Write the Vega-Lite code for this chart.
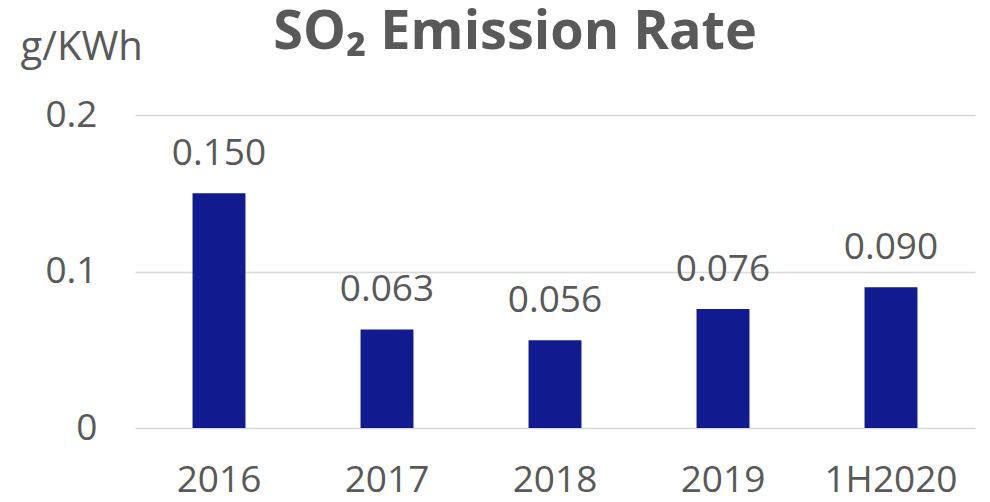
{
  "$schema": "https://vega.github.io/schema/vega-lite/v6.json",
  "autosize": "none",
  "width": 840,
  "height": 313,
  "padding": {"left": 135, "top": 115, "right": 15, "bottom": 74},
  "background": "white",
  "config": {"view": {"stroke": null}, "font": "Open Sans"},
  "title": {
    "text": "SO₂ Emission Rate",
    "font": "Open Sans",
    "fontSize": 54,
    "fontWeight": "bold",
    "color": "#595959",
    "anchor": "middle",
    "dx": -40,
    "offset": -33
  },
  "data": {
    "values": [
      {"year": "2016", "rate": 0.150},
      {"year": "2017", "rate": 0.063},
      {"year": "2018", "rate": 0.056},
      {"year": "2019", "rate": 0.076},
      {"year": "1H2020", "rate": 0.090}
    ]
  },
  "encoding": {
    "x": {
      "field": "year",
      "type": "nominal",
      "sort": null,
      "scale": {"paddingInner": 0.685, "paddingOuter": 0.3425},
      "axis": {
        "title": null,
        "labelAngle": 0,
        "labelFontSize": 37,
        "labelColor": "#595959",
        "labelPadding": 34,
        "ticks": false,
        "domain": false
      }
    },
    "y": {
      "field": "rate",
      "type": "quantitative",
      "scale": {"domain": [0, 0.2]},
      "axis": {
        "title": "g/KWh",
        "titleAngle": 0,
        "titleAlign": "left",
        "titleBaseline": "alphabetic",
        "titleX": -115,
        "titleY": -56,
        "titleFontSize": 40,
        "titleFontWeight": "normal",
        "titleColor": "#595959",
        "values": [0, 0.1, 0.2],
        "format": "~g",
        "labelFontSize": 37,
        "labelColor": "#595959",
        "labelPadding": 38,
        "ticks": false,
        "domain": false,
        "grid": true,
        "gridColor": "#D9D9D9",
        "gridWidth": 1.5
      }
    }
  },
  "layer": [
    {"mark": {"type": "bar", "color": "#111A8F"}},
    {
      "mark": {"type": "text", "baseline": "bottom", "dy": -20, "fontSize": 37, "color": "#595959"},
      "encoding": {"text": {"field": "rate", "type": "quantitative", "format": ".3f"}}
    }
  ]
}
